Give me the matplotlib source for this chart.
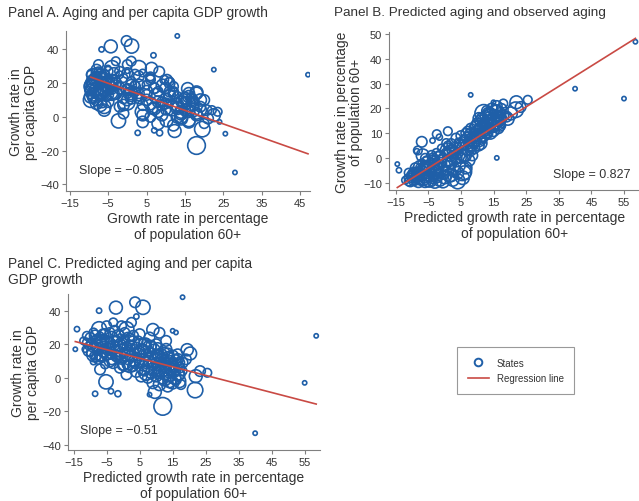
import matplotlib
matplotlib.use("Agg")
import matplotlib.pyplot as plt
from matplotlib.lines import Line2D
import numpy as np

plt.rcParams['font.family'] = ['Liberation Sans', 'DejaVu Sans']

# one entry per state: predicted aging, observed aging, per capita GDP growth, population weight
pred_aging = [
    58.5, 40, 55, 18, 8, 16, 15, -14.5, -14, -9, 4, -7.3, -2.2, 3.6, 6, 12, 21.8,
    9.6, -5.2, 7, 16.5, 19.4, 20.3, 23.3, 25.5, 9, 11, 13, 1, 10.5, 14, 8, 17,
    5.5, -6.7, 11.7, 22, 19, -4.6, -7, -8.2, -2.4, 1, -7.3, 1, -8.8, -8.5, -3.7, -1.6,
    -12, -11.5, -11, -10.5,
    -10, -10, -9.5, -9.5, -9, -9,
    -8, -8, -7.5, -7.5, -7, -7, -6.5,
    -6, -6, -6, -5.5, -5.5, -5, -5, -5,
    -4, -4, -4, -3.5, -3.5, -3, -3, -2.5,
    -2, -2, -1.5, -1.5, -1, -1, -0.5, -0.5,
    0, 0, 0.5, 0.5, 1, 1, 1.5, 1.5,
    2, 2, 2.5, 2.5, 3, 3, 3.5, 3.5,
    4, 4, 4.5, 4.5, 5, 5, 5.5, 5.5,
    6, 6, 6.5, 6.5, 7, 7, 7.5, 7.5,
    8, 8, 8.5, 8.5, 9, 9, 9.5, 9.5,
    10, 10, 10.5, 10.5, 11, 11, 11.5, 11.5,
    12, 12, 12.5, 12.5, 13, 13, 13.5, 13.5,
    14, 14, 14.5, 14.5, 15, 15, 15.5, 15.5,
    16, 16, 16.5, 17, 17, 17.5, 18, 18,
    -11, -10.5, -9, -8.5, -8, -7, -6.5, -6, -5.5, -4.5,
    -4, -3, -2.5, -2, -1, -0.5, 0.5, 1, 2, 3,
    4, 5, 6, 7, 8, 9, 10, 11, 12, 13,
    14, 15, 16, 17, 13.5, 12.5, 10.5, 16.5, -3.5, 2.5,
]
obs_aging = [
    47, 28, 24, 13, 25.5, 0, 22.5, -2.5, -5, -8.8, 6.8, -6.7, -4.3, -0.2, 1.1, 18, 19.5,
    12.3, -2.3, 4, 14, 15.7, 18, 20.6, 23.5, 6.3, 8.3, 10.3, -0.2, 7.6, 10.2, 9.2, 15.4,
    -5.5, 1, 11.6, 22.5, 16.7, -8.8, 6.5, 3, 9.6, 10.8, -4, 3, -7, 2.7, 7, 8.4,
    -9, -8, -9.5, -7,
    -8, -6, -9, -5, -7.5, -9.5,
    -6, -8.5, -4, -9, -7, -2, -5.5,
    -8, -3, -9.5, -6.5, -1, -7.5, -4, -9,
    -5, -2, -8, 0, -6, -9.5, -3, 2,
    -7, -4, 1, -9, -2, 4, -6, 0,
    -3, -8, 2, -5, 5, -1, -7, 3,
    -2, 6, -9, 1, 4, -5, 8, 0,
    2, -6, 6, -3, 9, 0, 4, -8,
    7, 1, 10, -4, 3, 11, -1, 6,
    5, 12, 1, 8, 10, 4, 13, 7,
    9, 14, 5, 12, 8, 15, 10, 16,
    13, 9, 17, 11, 14, 19, 12, 16,
    15, 18, 13, 20, 16, 11, 19, 14,
    17, 21, 15, 18, 13, 20, 17, 22,
    -6, -9.5, -4, -7, -9.5, -5, -8.5, 0, -3.5, -7,
    1, -5, -8, 0, -5, -9.5, 6, -4, -7, 2,
    -9.5, 5, -6, 8, 3, 7, 11, 6, 15, 10,
    17, 13, 19, 16, 18, 14, 16, 12, -1, 3,
]
gdp_growth = [
    25, -33, -3, 48, -10, 27, 28, 17, 29, 9.6, 36.5, 40, 41.8, 45, 42, -17, -7.3,
    -8.4, -2.4, 3, 2, 16.7, 14.5, 4, 3, 28.7, 26.8, 22, 9, 12.5, -2, 18.5, 9,
    18, 14, 5, 1, 11, 20, 5, 12, 22, 8, 29, 29, 14, -9.5, -8, -9.5,
    22, 17, 25, 19,
    24, 15, 20, 22, 27, 13,
    18, 23, 16, 11, 21, 25, 12,
    26, 19, 16, 8, 23, 31, 14, 21,
    17, 27, 10, 14, 24, 18, 33, 19,
    13, 22, 12, 25, 6, 26, 16, 31,
    20, 8, 15, 27, 19, 2, 23, 11,
    17, 24, 13, 33, 7, 21, 15, 10,
    18, 4, 22, 14, 9, 26, 1, 16,
    17, 11, 4, 20, 14, 21, 7, 0,
    10, 15, 19, 3, 8, -3, 12, 17,
    1, 9, 13, 18, -4, 4, 11, 14,
    0, 7, 10, 15, 3, 6, -5, 12,
    8, 1, 5, 10, -3, 13, 4, 0,
    7, -1, 11, 2, 6, -4, 9, 4,
    21, 16, 18, 25, 19, 13, 22, 17, 26, 15,
    21, 9, 28, 16, 19, 12, 23, 14, 7, 25,
    10, 15, 6, 9, 24, 5, 20, 8, 11, 17,
    4, 7, 10, -2, 14, -1, 3, 14, 11, 19,
]
population = [
    1, 1, 1, 1, 1, 1, 1, 1, 1.5, 2, 1.5, 1.5, 9, 6, 11, 17, 13,
    9, 11, 12, 9, 8, 9, 6, 4, 8, 6, 6, 16, 12, 9, 9, 6,
    18, 9, 12, 9, 6, 12, 6, 4, 4, 4, 12, 12, 12, 1.5, 1.5, 2,
    3, 2, 4, 3,
    5, 3, 6, 2, 4, 3,
    6, 5, 4, 5, 7, 3, 5,
    6, 5, 8, 4, 4, 5, 7, 9,
    6, 5, 7, 5, 8, 10, 4, 4,
    7, 6, 5, 8, 6, 3, 9, 5,
    7, 8, 5, 5, 4, 6, 10, 6,
    7, 4, 8, 5, 6, 9, 5, 7,
    6, 8, 5, 8, 5, 6, 7, 10,
    6, 7, 5, 8, 6, 4, 7, 6,
    7, 5, 6, 7, 6, 7, 5, 6,
    7, 6, 6, 5, 8, 7, 6, 7,
    8, 7, 6, 6, 9, 6, 7, 8,
    9, 7, 8, 6, 8, 7, 8, 9,
    8, 6, 7, 7, 6, 5, 6, 4,
    4, 6, 5, 7, 8, 6, 9, 4, 6, 10,
    5, 7, 6, 8, 10, 9, 4, 11, 9, 6,
    12, 8, 10, 7, 6, 9, 6, 9, 8, 7,
    10, 9, 8, 9, 8, 9, 7, 6, 6, 7,
]

slopes = [-0.805, 0.827, -0.51]
intercepts = [15.9, 0.0, 14.2]
slope_labels = ["Slope = \u22120.805", "Slope = 0.827", "Slope = \u22120.51"]

BLUE = '#1f5fa8'
RED = '#c94a44'
AXC = '#808080'
TXT = '#333333'

pred = np.array(pred_aging)
obs = np.array(obs_aging)
gdp = np.array(gdp_growth)
sizes = np.array(population) * 9.5

fig = plt.figure(figsize=(6.39, 5.02), dpi=100)
axA = fig.add_axes([0.103, 0.6175, 0.382, 0.319])
axB = fig.add_axes([0.609, 0.6195, 0.391, 0.315])
axC = fig.add_axes([0.106, 0.1016, 0.394, 0.311])


def style(ax, xlim, ylim, xticks, yticks):
    for s in ['top', 'right']:
        ax.spines[s].set_visible(False)
    for s in ['left', 'bottom']:
        ax.spines[s].set_color(AXC)
        ax.spines[s].set_linewidth(0.8)
    ax.set_xlim(*xlim)
    ax.set_ylim(*ylim)
    ax.set_xticks(xticks)
    ax.set_yticks(yticks)
    ax.tick_params(length=3, width=0.8, color=AXC, labelsize=8, labelcolor=TXT, pad=2)


panels = [
    (axA, obs, gdp, (-16, 47.5), (-44, 51), [-15, -5, 5, 15, 25, 35, 45], [-40, -20, 0, 20, 40],
     "Growth rate in\nper capita GDP", "Growth rate in percentage\nof population 60+",
     (-12.5, -31.5), 'left', 1.5),
    (axB, pred, obs, (-17, 59.6), (-13, 51), [-15, -5, 5, 15, 25, 35, 45, 55], [-10, 0, 10, 20, 30, 40, 50],
     "Growth rate in percentage\nof population 60+", "Predicted growth rate in percentage\nof population 60+",
     (57, -6.5), 'right', 0),
    (axC, pred, gdp, (-16.8, 59.5), (-43, 50), [-15, -5, 5, 15, 25, 35, 45, 55], [-40, -20, 0, 20, 40],
     "Growth rate in\nper capita GDP", "Predicted growth rate in percentage\nof population 60+",
     (-13.2, -31), 'left', 1.5),
]

for i, (ax, x, y, xl, yl, xt, yt, ylab, xlab, tpos, ha, ypad) in enumerate(panels):
    style(ax, xl, yl, xt, yt)
    ax.scatter(x, y, s=sizes, facecolors='none', edgecolors=BLUE, linewidths=1.2, zorder=2)
    xs = np.array([x.min(), x.max()])
    ax.plot(xs, intercepts[i] + slopes[i] * xs, color=RED, lw=1.2, zorder=3)
    ax.set_ylabel(ylab, fontsize=10, color=TXT, labelpad=ypad, linespacing=1.05)
    ax.set_xlabel(xlab, fontsize=10, color=TXT, labelpad=2)
    ax.text(tpos[0], tpos[1], slope_labels[i], fontsize=9, color=TXT, ha=ha, va='center')

fig.text(0.0125, 0.974, "Panel A. Aging and per capita GDP growth", fontsize=9.9, color=TXT, va='center')
fig.text(0.523, 0.974, "Panel B. Predicted aging and observed aging", fontsize=9.7, color=TXT, va='center')
fig.text(0.0125, 0.488, "Panel C. Predicted aging and per capita\nGDP growth", fontsize=9.9, color=TXT,
         va='top', linespacing=1.15)

handles = [
    Line2D([], [], marker='o', linestyle='none', markerfacecolor='none', markeredgecolor=BLUE,
           markersize=5.5, markeredgewidth=1.4),
    Line2D([], [], color=RED, lw=1.2),
]
leg = fig.legend(handles, ["States", "Regression line"], loc='center', bbox_to_anchor=(0.807, 0.26),
                 fontsize=7, frameon=True, fancybox=False, edgecolor=AXC, handlelength=2.2,
                 borderpad=1.1, labelspacing=0.6, borderaxespad=0)
leg.get_frame().set_linewidth(0.8)
for t in leg.get_texts():
    t.set_color(TXT)

fig.savefig('out.png', dpi=100)
